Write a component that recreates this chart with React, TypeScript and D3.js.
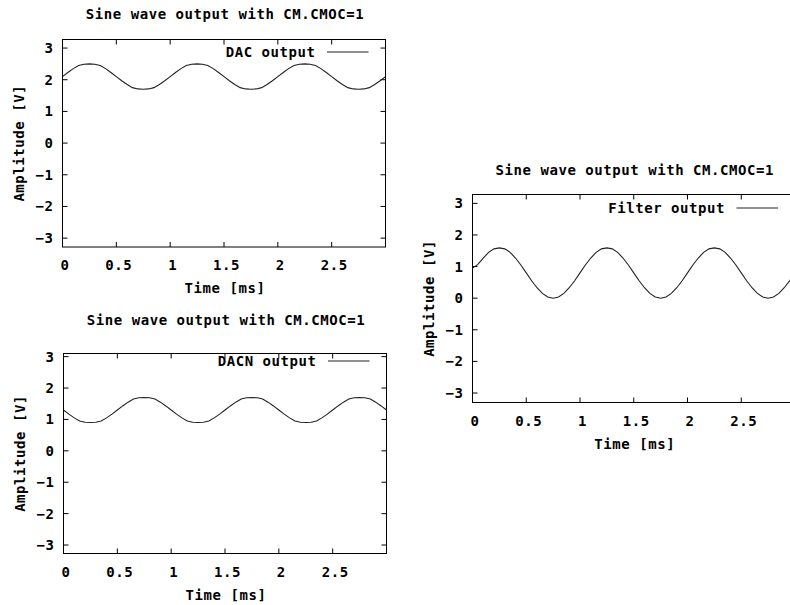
import React from "react";
import * as d3 from "d3";

// Sample times [ms]
const TIME = [
  0, 0.05, 0.1, 0.15, 0.2, 0.25, 0.3, 0.35, 0.4, 0.45,
  0.5, 0.55, 0.6, 0.65, 0.7, 0.75, 0.8, 0.85, 0.9, 0.95,
  1, 1.05, 1.1, 1.15, 1.2, 1.25, 1.3, 1.35, 1.4, 1.45,
  1.5, 1.55, 1.6, 1.65, 1.7, 1.75, 1.8, 1.85, 1.9, 1.95,
  2, 2.05, 2.1, 2.15, 2.2, 2.25, 2.3, 2.35, 2.4, 2.45,
  2.5, 2.55, 2.6, 2.65, 2.7, 2.75, 2.8, 2.85, 2.9, 2.95,
  3,
];

const DAC = [
  2.1, 2.23, 2.35, 2.45, 2.49, 2.5, 2.49, 2.45, 2.35, 2.23,
  2.1, 1.97, 1.85, 1.75, 1.71, 1.7, 1.71, 1.75, 1.85, 1.97,
  2.1, 2.23, 2.35, 2.45, 2.49, 2.5, 2.49, 2.45, 2.35, 2.23,
  2.1, 1.97, 1.85, 1.75, 1.71, 1.7, 1.71, 1.75, 1.85, 1.97,
  2.1, 2.23, 2.35, 2.45, 2.49, 2.5, 2.49, 2.45, 2.35, 2.23,
  2.1, 1.97, 1.85, 1.75, 1.71, 1.7, 1.71, 1.75, 1.85, 1.97,
  2.1,
];

const DACN = [
  1.3, 1.17, 1.05, 0.95, 0.91, 0.9, 0.91, 0.95, 1.05, 1.17,
  1.3, 1.43, 1.55, 1.65, 1.69, 1.7, 1.69, 1.65, 1.55, 1.43,
  1.3, 1.17, 1.05, 0.95, 0.91, 0.9, 0.91, 0.95, 1.05, 1.17,
  1.3, 1.43, 1.55, 1.65, 1.69, 1.7, 1.69, 1.65, 1.55, 1.43,
  1.3, 1.17, 1.05, 0.95, 0.91, 0.9, 0.91, 0.95, 1.05, 1.17,
  1.3, 1.43, 1.55, 1.65, 1.69, 1.7, 1.69, 1.65, 1.55, 1.43,
  1.3,
];

const FILTER = [
  0.95, 1.07, 1.27, 1.45, 1.56, 1.59, 1.56, 1.45, 1.27, 1.05,
  0.8, 0.55, 0.33, 0.15, 0.04, 0.0, 0.04, 0.15, 0.33, 0.55,
  0.8, 1.05, 1.27, 1.45, 1.56, 1.59, 1.56, 1.45, 1.27, 1.05,
  0.8, 0.55, 0.33, 0.15, 0.04, 0.0, 0.04, 0.15, 0.33, 0.55,
  0.8, 1.05, 1.27, 1.45, 1.56, 1.59, 1.56, 1.45, 1.27, 1.05,
  0.8, 0.55, 0.33, 0.15, 0.04, 0.0, 0.04, 0.15, 0.33, 0.55,
  0.8,
];

const X_TICKS = [0, 0.5, 1, 1.5, 2, 2.5, 3];
const X_TICK_LABELS = ["0", "0.5", "1", "1.5", "2", "2.5", ""];
const Y_TICKS = [-3, -2, -1, 0, 1, 2, 3];

const TITLE = "Sine wave output with CM.CMOC=1";
const X_LABEL = "Time [ms]";
const Y_LABEL = "Amplitude [V]";

const FONT = "'DejaVu Sans Mono', monospace";

interface PanelProps {
  left: number;
  right: number;
  top: number;
  bottom: number;
  yDomain: [number, number];
  titleY: number;
  legendY: number;
  legend: string;
  values: number[];
}

const textStyle: React.CSSProperties = {
  fontFamily: FONT,
  fontWeight: "bold",
  fontSize: 14,
  letterSpacing: 0.55,
};

function Panel(p: PanelProps) {
  const x = d3.scaleLinear().domain([0, 3]).range([p.left, p.right]);
  const y = d3.scaleLinear().domain(p.yDomain).range([p.bottom, p.top]);
  const line = d3
    .line<number>()
    .x((_, i) => x(TIME[i]))
    .y((v) => y(v));
  const tl = 5;
  const cx = (p.left + p.right) / 2;
  const cy = (p.top + p.bottom) / 2;
  const clipId = `clip-${p.legend.replace(/\s/g, "")}`;
  return (
    <g>
      <defs>
        <clipPath id={clipId}>
          <rect x={p.left} y={p.top} width={p.right - p.left} height={p.bottom - p.top} />
        </clipPath>
      </defs>
      <text x={cx + 1} y={p.titleY} textAnchor="middle" style={textStyle} fill="#000">
        {TITLE}
      </text>
      {X_TICKS.map((t, i) => (
        <g key={"xt" + i}>
          <line x1={x(t)} x2={x(t)} y1={p.bottom} y2={p.bottom - tl} stroke="#000" strokeWidth={1} />
          <line x1={x(t)} x2={x(t)} y1={p.top} y2={p.top + tl} stroke="#000" strokeWidth={1} />
          <text x={x(t) + 2.5} y={p.bottom + 23} textAnchor="middle" style={textStyle} fill="#000">
            {X_TICK_LABELS[i]}
          </text>
        </g>
      ))}
      {Y_TICKS.map((t) => (
        <g key={"yt" + t}>
          <line x1={p.left} x2={p.left + tl} y1={y(t)} y2={y(t)} stroke="#000" strokeWidth={1} />
          <line x1={p.right} x2={p.right - tl} y1={y(t)} y2={y(t)} stroke="#000" strokeWidth={1} />
          <text x={p.left - 9} y={y(t)} dy="0.36em" textAnchor="end" style={textStyle} fill="#000">
            {t < 0 ? "\u2212" + Math.abs(t) : String(t)}
          </text>
        </g>
      ))}
      <rect
        x={p.left}
        y={p.top}
        width={p.right - p.left}
        height={p.bottom - p.top}
        fill="none"
        stroke="#000"
        strokeWidth={1}
      />
      <text x={cx + 1} y={p.bottom + 46} textAnchor="middle" style={textStyle} fill="#000">
        {X_LABEL}
      </text>
      <text
        transform={`translate(${p.left - 38.5},${cy}) rotate(-90)`}
        textAnchor="middle"
        style={textStyle}
        fill="#000"
      >
        {Y_LABEL}
      </text>
      <text x={p.right - 70} y={p.legendY} dy="0.36em" textAnchor="end" style={textStyle} fill="#000">
        {p.legend}
      </text>
      <line
        x1={p.right - 58.5}
        x2={p.right - 17}
        y1={p.legendY}
        y2={p.legendY}
        stroke="#222"
        strokeWidth={1.1}
      />
      <path
        d={line(p.values) || ""}
        fill="none"
        stroke="#222"
        strokeWidth={1.1}
        clipPath={`url(#${clipId})`}
      />
    </g>
  );
}

export default function App() {
  return (
    <svg
      width={790}
      height={605}
      style={{ position: "absolute", left: 0, top: 0, background: "#fff" }}
    >
      <rect x={0} y={0} width={790} height={605} fill="#fff" />
      <Panel
        left={62.5}
        right={385.5}
        top={39.5}
        bottom={247}
        yDomain={[-3.28, 3.27]}
        titleY={19}
        legendY={52}
        legend="DAC output"
        values={DAC}
      />
      <Panel
        left={63.5}
        right={386.5}
        top={353.5}
        bottom={553.5}
        yDomain={[-3.27, 3.1]}
        titleY={325}
        legendY={361}
        legend="DACN output"
        values={DACN}
      />
      <Panel
        left={472.5}
        right={795}
        top={194.5}
        bottom={402.5}
        yDomain={[-3.3, 3.28]}
        titleY={175}
        legendY={208}
        legend="Filter output"
        values={FILTER}
      />
    </svg>
  );
}
